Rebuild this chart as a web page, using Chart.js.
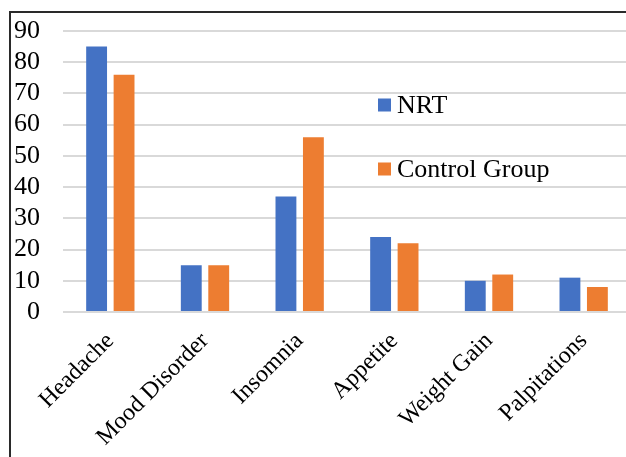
<!DOCTYPE html>
<html>
<head>
<meta charset="utf-8">
<script src="https://cdn.jsdelivr.net/npm/chart.js@4/dist/chart.umd.min.js"></script>
<style>
  html, body { margin: 0; padding: 0; background: #fff; overflow: hidden; width: 626px; height: 457px; }
  #wrap { position: absolute; left: 0; top: 0; width: 640px; height: 457px; }
  #frame { position: absolute; left: 9px; top: 11px; width: 700px; height: 500px;
           border-left: 2px solid #2a2a2a; border-top: 2px solid #2a2a2a; pointer-events: none; }
</style>
</head>
<body>
<div id="wrap"><canvas id="chart"></canvas></div>
<div id="frame"></div>
<script>
// Side effects reported by each group, in percent
const categories = ['Headache', 'Mood Disorder', 'Insomnia', 'Appetite', 'Weight Gain', 'Palpitations'];
const nrtValues = [85, 15, 37, 24, 10, 11];
const controlValues = [76, 15, 56, 22, 12, 8];
const yTickMin = 0;
const yTickMax = 90;
const yTickStep = 10;

const SERIF = '"Liberation Serif", "Times New Roman", serif';

// Vertical legend drawn inside the plot area
const innerLegend = {
  id: 'innerLegend',
  afterDraw(chart) {
    const ctx = chart.ctx;
    const rows = [105, 169];
    ctx.save();
    ctx.font = '26px ' + SERIF;
    ctx.textBaseline = 'middle';
    ctx.textAlign = 'left';
    chart.data.datasets.forEach((ds, i) => {
      const y = rows[i];
      ctx.fillStyle = ds.backgroundColor;
      ctx.fillRect(378, y - 6.5, 13, 13);
      ctx.fillStyle = '#000';
      ctx.fillText(ds.label, 397, y + 1);
    });
    ctx.restore();
  }
};

new Chart(document.getElementById('chart'), {
  type: 'bar',
  data: {
    labels: categories,
    datasets: [
      { label: 'NRT', data: nrtValues, backgroundColor: '#4472C4',
        categoryPercentage: 0.58, barPercentage: 0.76 },
      { label: 'Control Group', data: controlValues, backgroundColor: '#ED7D31',
        categoryPercentage: 0.58, barPercentage: 0.76 }
    ]
  },
  options: {
    responsive: true,
    maintainAspectRatio: false,
    animation: false,
    layout: { padding: { top: 31, right: 9, bottom: 0, left: 0 } },
    plugins: {
      legend: { display: false },
      tooltip: { enabled: false }
    },
    scales: {
      x: {
        grid: { display: false },
        border: { display: false },
        ticks: {
          color: '#000',
          font: { family: SERIF, size: 24 },
          minRotation: 45,
          maxRotation: 45,
          padding: 7,
          autoSkip: false
        },
        afterFit(scale) { scale.height = 145; }
      },
      y: {
        min: yTickMin,
        max: yTickMax,
        grid: { color: '#D9D9D9', lineWidth: 2, drawTicks: false },
        border: { display: false },
        ticks: {
          color: '#000',
          font: { family: SERIF, size: 26 },
          padding: 23,
          stepSize: yTickStep,
          autoSkip: false
        },
        afterFit(scale) {
          scale.width = 63;
          // the label gap should not push the plot area down
          scale.paddingTop = 0;
          scale.paddingBottom = 0;
        }
      }
    }
  },
  plugins: [innerLegend]
});
</script>
</body>
</html>
